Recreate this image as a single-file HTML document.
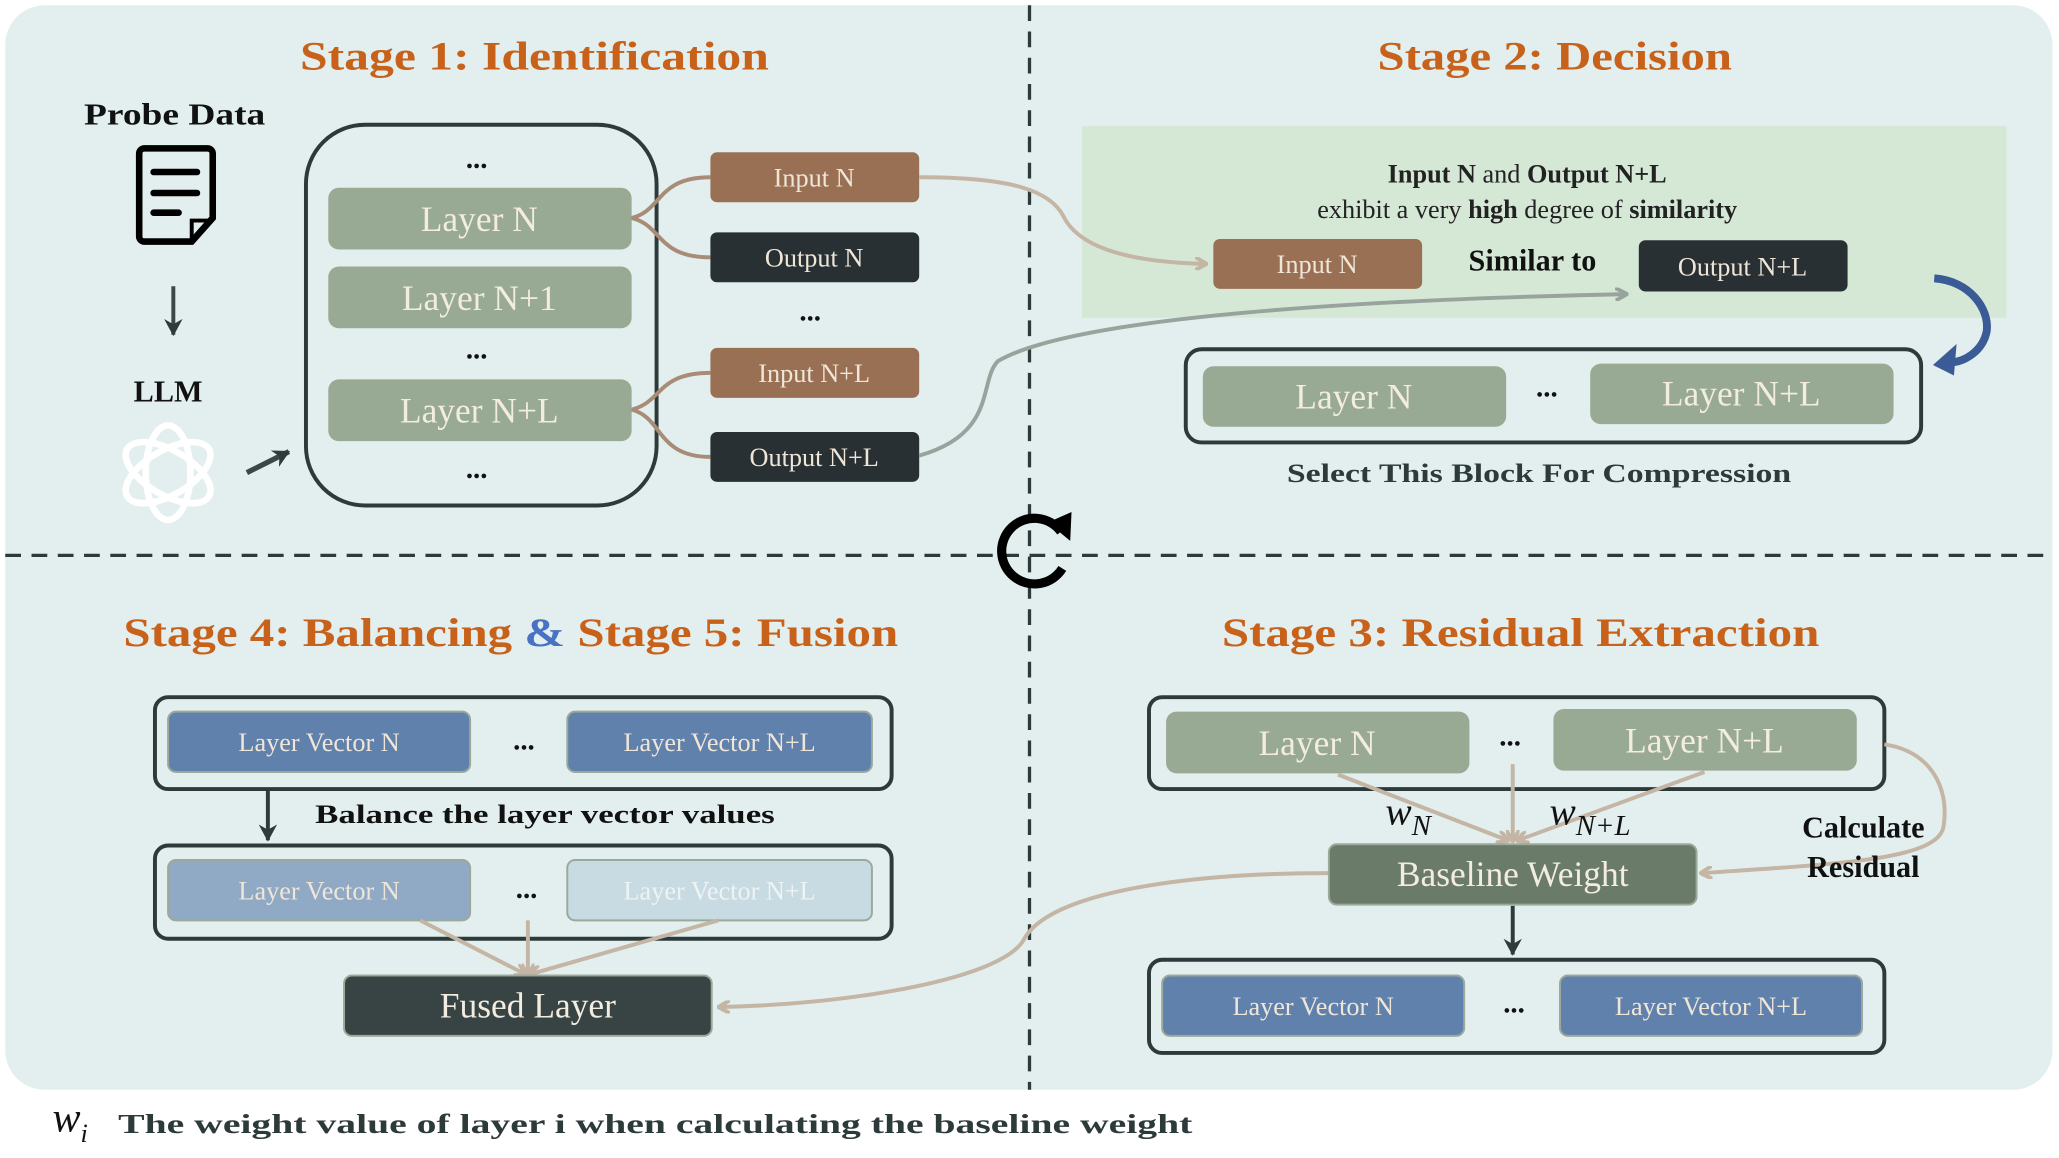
<!DOCTYPE html>
<html><head><meta charset="utf-8"><style>
html,body{margin:0;padding:0;background:#fff;width:2059px;height:1158px;overflow:hidden}
svg{display:block}
text{font-family:"Liberation Serif","DejaVu Serif",serif}
.t{font-weight:bold;fill:#c8621a;font-size:31px}
.b{font-weight:bold;fill:#111}
.lay{fill:#f3ece0;font-size:27px}
.sm{fill:#efe6d8;font-size:20px}
</style></head><body>
<svg width="2059" height="1158" viewBox="0 0 1568 882" preserveAspectRatio="none" xmlns="http://www.w3.org/2000/svg">
<defs>
<marker id="ab" markerWidth="10" markerHeight="10" refX="8" refY="5" orient="auto" markerUnits="userSpaceOnUse"><path d="M0,0 L9,5 L0,10" fill="none" stroke="#c4b5a4" stroke-width="3"/></marker>
<marker id="ag" markerWidth="10" markerHeight="10" refX="8" refY="5" orient="auto" markerUnits="userSpaceOnUse"><path d="M0,0 L9,5 L0,10" fill="none" stroke="#98a39e" stroke-width="3"/></marker>
<marker id="ad" markerWidth="14" markerHeight="14" refX="12" refY="7" orient="auto" markerUnits="userSpaceOnUse"><path d="M0,0 L13,7 L0,14 L4,7Z" fill="#2f3b3a"/></marker>
</defs>
<rect x="4" y="4" width="1559" height="826" rx="30" fill="#e2efee"/>
<rect x="824" y="96" width="704" height="146" fill="#d5e8d6"/>
<line x1="784" y1="4" x2="784" y2="830" stroke="#2d3a3a" stroke-width="2.5" stroke-dasharray="12,8"/>
<line x1="4" y1="423" x2="1563" y2="423" stroke="#2d3a3a" stroke-width="2.5" stroke-dasharray="12,8"/>

<text class="t" x="407" y="53" text-anchor="middle" textLength="357" lengthAdjust="spacingAndGlyphs">Stage 1: Identification</text>
<text class="t" x="1184" y="53" text-anchor="middle" textLength="270" lengthAdjust="spacingAndGlyphs">Stage 2: Decision</text>
<text class="t" x="389" y="492" text-anchor="middle" textLength="590" lengthAdjust="spacingAndGlyphs">Stage 4: Balancing <tspan fill="#4a72c4">&amp;</tspan> Stage 5:  Fusion</text>
<text class="t" x="1158" y="492" text-anchor="middle" textLength="455" lengthAdjust="spacingAndGlyphs">Stage 3: Residual Extraction</text>

<path d="M808,405 A25,25 0 1 0 809,433" fill="none" stroke="#000" stroke-width="7"/>
<path d="M798,398 L816,390 L815,412Z" fill="#000"/>

<text class="b" x="133" y="95" text-anchor="middle" font-size="23" textLength="138" lengthAdjust="spacingAndGlyphs">Probe Data</text>
<path d="M110,113 H158 a4,4 0 0 1 4,4 V166 L146,184 H110 a4,4 0 0 1 -4,-4 V117 a4,4 0 0 1 4,-4Z" fill="none" stroke="#000" stroke-width="5"/>
<path d="M146,184 V168 H162" fill="none" stroke="#000" stroke-width="3"/>
<line x1="117" y1="131" x2="150" y2="131" stroke="#000" stroke-width="5" stroke-linecap="round"/>
<line x1="117" y1="147" x2="150" y2="147" stroke="#000" stroke-width="5" stroke-linecap="round"/>
<line x1="117" y1="162" x2="136" y2="162" stroke="#000" stroke-width="5" stroke-linecap="round"/>
<line x1="132" y1="218" x2="132" y2="255" stroke="#3a4846" stroke-width="3" marker-end="url(#ad)"/>
<text class="b" x="128" y="306" text-anchor="middle" font-size="23">LLM</text>
<g fill="none" stroke="#fff" stroke-width="5" transform="translate(128,360)">
<ellipse rx="17" ry="36"/><ellipse rx="17" ry="36" transform="rotate(60)"/><ellipse rx="17" ry="36" transform="rotate(120)"/>
</g>
<line x1="188" y1="360" x2="220" y2="344" stroke="#3a4846" stroke-width="4" marker-end="url(#ad)"/>

<rect x="233" y="95" width="267" height="290" rx="45" fill="none" stroke="#2d3a3a" stroke-width="3"/>
<g font-size="22" text-anchor="middle" fill="#111" font-weight="bold">
<text x="363" y="128">...</text><text x="363" y="273">...</text><text x="363" y="364">...</text><text x="617" y="244">...</text>
<text x="1178" y="302">...</text><text x="399" y="571">...</text><text x="401" y="684">...</text><text x="1150" y="568">...</text><text x="1153" y="771">...</text>
</g>
<g fill="#98a994">
<rect x="250" y="143" width="231" height="47" rx="8"/>
<rect x="250" y="203" width="231" height="47" rx="8"/>
<rect x="250" y="289" width="231" height="47" rx="8"/>
<rect x="916" y="279" width="231" height="46" rx="8"/>
<rect x="1211" y="277" width="231" height="46" rx="8"/>
<rect x="888" y="542" width="231" height="47" rx="8"/>
<rect x="1183" y="540" width="231" height="47" rx="8"/>
</g>
<g class="lay" text-anchor="middle">
<text x="365" y="176">Layer N</text>
<text x="365" y="236">Layer N+1</text>
<text x="365" y="322">Layer N+L</text>
<text x="1031" y="311">Layer N</text>
<text x="1326" y="309">Layer N+L</text>
<text x="1003" y="575">Layer N</text>
<text x="1298" y="573">Layer N+L</text>
</g>
<rect x="541" y="116" width="159" height="38" rx="5" fill="#9a7055"/>
<rect x="541" y="177" width="159" height="38" rx="5" fill="#293033"/>
<rect x="541" y="265" width="159" height="38" rx="5" fill="#9a7055"/>
<rect x="541" y="329" width="159" height="38" rx="5" fill="#293033"/>
<rect x="924" y="182" width="159" height="38" rx="5" fill="#9a7055"/>
<rect x="1248" y="183" width="159" height="39" rx="5" fill="#293033"/>
<g class="sm" text-anchor="middle" font-size="21">
<text x="620" y="142">Input N</text>
<text x="620" y="203">Output N</text>
<text x="620" y="291">Input N+L</text>
<text x="620" y="355">Output N+L</text>
<text x="1003" y="208">Input N</text>
<text x="1327" y="210">Output N+L</text>
</g>
<g fill="none" stroke="#a88c78" stroke-width="3">
<path d="M481,166 C505,160 500,135 541,135"/>
<path d="M481,166 C505,172 500,196 541,196"/>
<path d="M481,312 C505,306 500,284 541,284"/>
<path d="M481,312 C505,318 500,348 541,348"/>
</g>

<path d="M700,135 C770,135 800,145 810,165 C825,195 880,200 918,201" fill="none" stroke="#c4b5a4" stroke-width="3" marker-end="url(#ab)"/>
<path d="M700,347 C760,330 745,290 760,275 C820,240 1050,228 1238,224" fill="none" stroke="#98a39e" stroke-width="3" marker-end="url(#ag)"/>
<text x="1163" y="139" text-anchor="middle" font-size="20" fill="#222"><tspan font-weight="bold">Input N</tspan> and <tspan font-weight="bold">Output N+L</tspan></text>
<text x="1163" y="166" text-anchor="middle" font-size="20" fill="#222">exhibit a very <tspan font-weight="bold">high</tspan> degree of <tspan font-weight="bold">similarity</tspan></text>
<text class="b" x="1167" y="206" text-anchor="middle" font-size="23">Similar to</text>
<path d="M1473,212 C1500,214 1515,235 1513,252 C1510,268 1495,276 1485,276" fill="none" stroke="#3b5b96" stroke-width="6"/>
<path d="M1490,262 L1472,278 L1488,286Z" fill="#3b5b96"/>
<rect x="903" y="266" width="560" height="71" rx="12" fill="none" stroke="#2d3a3a" stroke-width="3"/>
<text x="1172" y="367" text-anchor="middle" font-size="20" font-weight="bold" fill="#2d3a3a" textLength="384" lengthAdjust="spacingAndGlyphs">Select This Block For Compression</text>

<rect x="118" y="531" width="561" height="70" rx="10" fill="none" stroke="#2d3a3a" stroke-width="3"/>
<rect x="118" y="644" width="561" height="71" rx="10" fill="none" stroke="#2d3a3a" stroke-width="3"/>
<g stroke="#9aa99a" stroke-width="1.5">
<rect x="128" y="542" width="230" height="46" rx="6" fill="#6181ad"/>
<rect x="432" y="542" width="232" height="46" rx="6" fill="#6181ad"/>
<rect x="128" y="655" width="230" height="46" rx="6" fill="#90a9c5"/>
<rect x="432" y="655" width="232" height="46" rx="6" fill="#c8dbe3"/>
<rect x="885" y="743" width="230" height="46" rx="6" fill="#6181ad"/>
<rect x="1188" y="743" width="230" height="46" rx="6" fill="#6181ad"/>
</g>
<g class="sm" text-anchor="middle" font-size="21">
<text x="243" y="572">Layer Vector N</text>
<text x="548" y="572">Layer Vector N+L</text>
<text x="243" y="685">Layer Vector N</text>
<text x="548" y="685" fill="#eef3f3">Layer Vector N+L</text>
<text x="1000" y="773">Layer Vector N</text>
<text x="1303" y="773">Layer Vector N+L</text>
</g>
<line x1="204" y1="601" x2="204" y2="640" stroke="#2f3b3a" stroke-width="3" marker-end="url(#ad)"/>
<text class="b" x="240" y="627" font-size="20" textLength="350" lengthAdjust="spacingAndGlyphs">Balance the layer vector values</text>
<g stroke="#c4b5a4" stroke-width="3" fill="none">
<line x1="320" y1="701" x2="400" y2="742" marker-end="url(#ab)"/>
<line x1="402" y1="701" x2="402" y2="742" marker-end="url(#ab)"/>
<line x1="547" y1="701" x2="404" y2="742" marker-end="url(#ab)"/>
<path d="M1012,665 C900,665 800,680 780,715 C765,745 650,765 548,767" marker-end="url(#ab)"/>
</g>
<rect x="262" y="743" width="280" height="46" rx="6" fill="#374443" stroke="#9aa99a" stroke-width="1.5"/>
<text class="lay" x="402" y="775" text-anchor="middle">Fused Layer</text>

<rect x="875" y="531" width="560" height="70" rx="10" fill="none" stroke="#2d3a3a" stroke-width="3"/>
<rect x="875" y="731" width="560" height="71" rx="10" fill="none" stroke="#2d3a3a" stroke-width="3"/>
<g stroke="#c4b5a4" stroke-width="3" fill="none">
<line x1="1019" y1="590" x2="1148" y2="640" marker-end="url(#ab)"/>
<line x1="1152" y1="582" x2="1152" y2="640" marker-end="url(#ab)"/>
<line x1="1298" y1="588" x2="1156" y2="640" marker-end="url(#ab)"/>
<path d="M1435,567 C1470,572 1485,600 1480,630 C1475,655 1400,658 1296,665" marker-end="url(#ab)"/>
</g>
<rect x="1012" y="643" width="280" height="46" rx="6" fill="#6b7b6a" stroke="#9aa99a" stroke-width="1.5"/>
<text class="lay" x="1152" y="675" text-anchor="middle">Baseline Weight</text>
<line x1="1152" y1="690" x2="1152" y2="727" stroke="#2f3b3a" stroke-width="3" marker-end="url(#ad)"/>
<text x="1055" y="628" font-size="30" font-style="italic" fill="#111">w<tspan font-size="22" dy="8">N</tspan></text>
<text x="1180" y="628" font-size="30" font-style="italic" fill="#111">w<tspan font-size="22" dy="8">N+L</tspan></text>
<text class="b" x="1419" y="638" text-anchor="middle" font-size="23">Calculate</text>
<text class="b" x="1419" y="668" text-anchor="middle" font-size="23">Residual</text>

<text x="40" y="862" font-size="32" font-style="italic" fill="#111">w<tspan font-size="20" dy="8">i</tspan></text>
<text x="90" y="863" font-size="21" font-weight="bold" fill="#2d3a3a" textLength="818" lengthAdjust="spacingAndGlyphs">The weight value of layer i when calculating the baseline weight</text>
</svg>
</body></html>
